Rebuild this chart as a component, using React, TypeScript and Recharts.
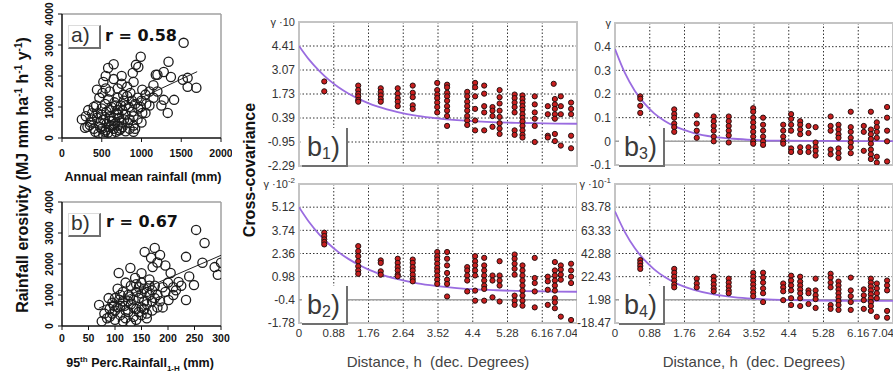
import React from "react";
import { ComposedChart, Scatter, Line, XAxis, YAxis, CartesianGrid, ReferenceArea, ReferenceLine } from "recharts";

const SANS = "'Liberation Sans', Arial, sans-serif";
const WIDE = "'DejaVu Sans', Verdana, sans-serif";

// ---- panel a: erosivity vs annual mean rainfall (mm, MJ mm/ha/h/y)
const annualRain = [
  [1530, 3070], [990, 2620], [580, 2260], [650, 2380], [960, 2290], [1340, 2460], [1280, 2130], [1180, 2040],
  [1370, 1970], [1580, 1940], [1690, 1620], [1580, 1650], [1520, 1880], [520, 1810], [440, 1560], [900, 1810],
  [1010, 1560], [1280, 1230], [1410, 1230], [1330, 810], [1010, 810], [320, 360], [380, 800], [890, 2100],
  [930, 2360], [1200, 2040], [1050, 810], [290, 330], [350, 420],
  [420, 200], [460, 150], [500, 300], [520, 100], [550, 250], [580, 180], [600, 350], [620, 120], [650, 300],
  [680, 200], [700, 400], [720, 250], [760, 350], [800, 220], [850, 300], [900, 400], [480, 500], [520, 600],
  [560, 450], [600, 700], [640, 550], [680, 800], [720, 650], [760, 900], [800, 750], [840, 1000], [880, 850],
  [920, 1100], [960, 950], [1000, 1200], [450, 800], [500, 950], [540, 1100], [580, 1250], [620, 1000],
  [660, 1150], [700, 1300], [740, 1050], [780, 1200], [820, 1350], [860, 1450], [950, 1300], [1050, 1400],
  [1100, 1500], [1150, 1300], [430, 1050], [470, 1300], [510, 1450], [550, 1600], [600, 1500], [700, 1600],
  [750, 1750], [820, 1650], [380, 600], [400, 300], [360, 500], [300, 700], [250, 600], [330, 900], [400, 1000],
  [600, 900], [650, 650], [700, 900], [750, 500], [800, 1050], [850, 600], [900, 700], [950, 600], [1000, 500],
  [1100, 1050], [1200, 1500], [1150, 1700], [650, 1900], [550, 2000], [750, 2000], [900, 200], [500, 750],
  [560, 850], [620, 400], [680, 1050], [740, 300], [780, 600], [440, 650], [480, 350], [540, 200], [600, 550],
  [660, 450], [710, 750], [770, 1400], [830, 500], [880, 1200], [920, 300], [990, 1000], [1060, 1100], [1250, 1050],
];
const annualFit = [[300, 460], [1700, 2140]];
const annualTicks = [0, 500, 1000, 1500, 2000];

// ---- panel b: erosivity vs 95th percentile 1-h rainfall
const p95Rain = [
  [253, 3100], [269, 2680], [234, 2230], [300, 2040], [294, 1650], [288, 1900], [265, 2040], [156, 2390],
  [175, 2520], [185, 2290], [168, 2200], [171, 1900], [205, 1710], [220, 1420], [249, 1320], [201, 840],
  [234, 840], [107, 1710], [129, 1870], [70, 680], [180, 2050], [195, 1950], [150, 1700], [165, 1500],
  [190, 1250], [210, 1250], [240, 1600],
  [85, 250], [95, 400], [100, 200], [105, 600], [110, 350], [115, 800], [120, 500], [125, 1000], [130, 700],
  [135, 300], [140, 1100], [145, 900], [150, 600], [155, 1200], [160, 400], [165, 1000], [170, 800], [175, 1300],
  [180, 600], [100, 900], [105, 1200], [110, 650], [115, 1100], [120, 250], [125, 450], [130, 1300], [135, 850],
  [140, 550], [145, 1250], [150, 350], [155, 800], [160, 1100], [170, 500], [180, 1000], [90, 550], [95, 750],
  [80, 400], [75, 150], [140, 200], [130, 100], [120, 1400], [150, 1400], [115, 150], [160, 700], [145, 450],
  [125, 800], [135, 600], [185, 800], [195, 1100], [200, 1400], [210, 1000], [175, 900], [110, 1000], [100, 500],
  [90, 300], [165, 1300], [155, 550], [140, 1350], [128, 950], [118, 650], [108, 850], [98, 650], [88, 900],
  [190, 600], [215, 1150], [225, 1300], [138, 1550], [150, 1050], [160, 250], [170, 1150],
];
const p95Fit = [[70, 580], [300, 2280]];
const p95Ticks = [0, 50, 100, 150, 200, 250, 300];
const erosTicks = [0, 1000, 2000, 3000, 4000];

// ---- cross-covariance panels b1..b4
const lagTicks = [0, 0.88, 1.76, 2.64, 3.52, 4.4, 5.28, 6.16, 7.04];

const b1Ticks = [-2.29, -0.95, 0.39, 1.73, 3.07, 4.41, 5.75];
const b1Pts = [
  [0.64, 2.43], [0.64, 1.88],
  [1.5, 2.2], [1.5, 1.95], [1.5, 1.75], [1.5, 1.6], [1.5, 1.4], [1.5, 1.3],
  [2.07, 2.05], [2.07, 1.85], [2.07, 1.65], [2.07, 1.45], [2.07, 1.3],
  [2.5, 2.05], [2.5, 1.75], [2.5, 1.5], [2.5, 1.3], [2.5, 1.05],
  [2.88, 2.2], [2.88, 1.8], [2.88, 1.55], [2.88, 1.1], [2.88, 0.9],
  [3.5, 2.35], [3.5, 1.95], [3.5, 1.7], [3.5, 1.5], [3.5, 1.25], [3.5, 1.0], [3.5, 0.7],
  [3.75, 2.25], [3.75, 2.1], [3.75, 1.8], [3.75, 1.6], [3.75, 1.35], [3.75, 1.05], [3.75, 0.8], [3.75, 0.5], [3.75, -0.05],
  [4.26, 1.85], [4.26, 1.6], [4.26, 1.3], [4.26, 1.05], [4.26, 0.8], [4.26, 0.5], [4.26, 0.25], [4.26, 0.0],
  [4.46, 2.35], [4.46, 2.1], [4.46, 1.6], [4.46, 0.9], [4.46, 0.25], [4.46, -0.3],
  [4.69, 2.2], [4.69, 1.75], [4.69, 1.05], [4.69, 0.7], [4.69, -0.3],
  [4.9, 1.0], [4.9, 0.8], [4.9, 0.5], [4.9, -0.1],
  [5.08, 1.95], [5.08, 1.55], [5.08, 1.2], [5.08, 0.8], [5.08, 0.45], [5.08, 0.1], [5.08, -0.2], [5.08, -0.5],
  [5.46, 1.7], [5.46, 1.5], [5.46, 1.25], [5.46, 1.0], [5.46, 0.7], [5.46, -0.3], [5.46, -0.55],
  [5.66, 1.65], [5.66, 1.45], [5.66, 1.25], [5.66, 1.05], [5.66, 0.85], [5.66, 0.6], [5.66, 0.4], [5.66, 0.2],
  [5.66, -0.05], [5.66, -0.3], [5.66, -0.55], [5.66, -0.7],
  [5.97, 1.6], [5.97, 1.15], [5.97, 0.7], [5.97, 0.35], [5.97, -0.05], [5.97, -0.95],
  [6.3, 1.05], [6.3, 0.6], [6.3, -0.6], [6.3, -0.7],
  [6.45, 2.3], [6.48, 1.45], [6.48, 1.15], [6.48, 0.9], [6.48, 0.6], [6.48, 0.35], [6.48, -0.5], [6.48, -0.9],
  [6.63, 1.6], [6.63, 1.05], [6.63, 0.6], [6.63, -1.15],
  [6.89, 1.25], [6.89, 0.9], [6.89, 0.6], [6.89, -0.6], [6.89, -1.3],
];
const b1Curve = [
  [0, 4.41], [0.25, 3.66], [0.5, 3.05], [0.75, 2.53], [1, 2.11], [1.25, 1.76], [1.5, 1.47], [1.75, 1.22],
  [2, 1.02], [2.5, 0.72], [3, 0.51], [3.5, 0.37], [4, 0.27], [4.5, 0.2], [5, 0.15], [5.5, 0.12], [6, 0.1],
  [6.5, 0.08], [7.04, 0.07],
];

const b2Ticks = [-1.78, -0.4, 0.98, 2.36, 3.74, 5.12, 6.5];
const b2Pts = [
  [0.64, 3.6], [0.64, 3.4], [0.64, 3.2], [0.64, 3.05], [0.64, 2.9],
  [1.5, 2.8], [1.5, 2.5], [1.5, 2.2], [1.5, 1.9], [1.5, 1.6], [1.5, 1.35], [1.5, 1.15],
  [2.07, 1.95], [2.07, 1.8], [2.07, 1.3], [2.07, 1.1],
  [2.5, 2.05], [2.5, 1.8], [2.5, 1.55], [2.5, 1.35], [2.5, 1.1], [2.5, 1.0],
  [2.88, 2.0], [2.88, 1.8], [2.88, 1.55], [2.88, 1.35], [2.88, 1.1], [2.88, 0.85], [2.88, 0.7],
  [3.5, 2.45], [3.5, 2.2], [3.5, 2.0], [3.5, 1.75], [3.5, 1.5], [3.5, 1.3], [3.5, 1.05], [3.5, 0.8], [3.5, 0.55],
  [3.75, 2.45], [3.75, 2.05], [3.75, 1.65], [3.75, 1.2], [3.75, 0.8], [3.75, 0.55], [3.75, -0.2],
  [4.26, 1.55], [4.26, 1.35], [4.26, 1.05], [4.26, 0.75], [4.26, 0.1],
  [4.46, 2.2], [4.46, 1.9], [4.46, 1.65], [4.46, 1.35], [4.46, 1.05], [4.46, 0.15], [4.46, -0.45],
  [4.69, 2.1], [4.69, 1.65], [4.69, 1.35], [4.69, 1.05], [4.69, 0.75], [4.69, 0.45], [4.69, 0.25], [4.69, -0.45],
  [4.9, 1.05], [4.9, 0.75], [4.9, -0.25],
  [5.08, 1.9], [5.08, 1.05], [5.08, 0.75], [5.08, 0.45], [5.08, -0.5],
  [5.46, 2.3], [5.46, 2.05], [5.46, 1.75], [5.46, 1.45], [5.46, 1.1], [5.46, -0.15], [5.46, -0.45], [5.46, -0.7],
  [5.66, 1.65], [5.66, 1.35], [5.66, 1.05], [5.66, 0.75], [5.66, 0.45], [5.66, 0.15], [5.66, -0.15], [5.66, -0.45], [5.66, -0.75],
  [5.97, 2.1], [5.97, 0.9], [5.97, 0.6], [5.97, 0.1], [5.97, -0.85],
  [6.3, 0.98], [6.3, 0.7], [6.3, 0.2], [6.3, -0.7],
  [6.48, 1.85], [6.48, 1.35], [6.48, 1.05], [6.48, 0.75], [6.48, 0.45], [6.48, 0.15], [6.48, -0.3], [6.48, -0.55], [6.48, -0.9],
  [6.63, 1.65], [6.63, 1.4], [6.63, 1.1], [6.63, 0.8], [6.63, -1.4],
  [6.89, 1.75], [6.89, 1.35], [6.89, 0.98], [6.89, 0.6], [6.89, -1.6],
];
const b2Curve = [
  [0, 5.12], [0.25, 4.25], [0.5, 3.53], [0.75, 2.94], [1, 2.44], [1.25, 2.04], [1.5, 1.7], [1.75, 1.41],
  [2, 1.18], [2.5, 0.83], [3, 0.58], [3.5, 0.42], [4, 0.3], [4.5, 0.22], [5, 0.17], [5.5, 0.13], [6, 0.11],
  [6.5, 0.09], [7.04, 0.08],
];

const b3Ticks = [-0.1, 0, 0.1, 0.2, 0.3, 0.4, 0.5];
const b3Pts = [
  [0.64, 0.19], [0.64, 0.18], [0.64, 0.15], [0.64, 0.12],
  [1.5, 0.135], [1.5, 0.115], [1.5, 0.1], [1.5, 0.075], [1.5, 0.06], [1.5, 0.04],
  [2.07, 0.11], [2.07, 0.075], [2.07, 0.045], [2.07, 0.015],
  [2.5, 0.105], [2.5, 0.085], [2.5, 0.065], [2.5, 0.045], [2.5, 0.02], [2.5, 0.0],
  [2.88, 0.105], [2.88, 0.085], [2.88, 0.065], [2.88, 0.045], [2.88, 0.025], [2.88, -0.005],
  [3.5, 0.14], [3.5, 0.125], [3.5, 0.1], [3.5, 0.08], [3.5, 0.06], [3.5, 0.04], [3.5, 0.02], [3.5, 0.0], [3.5, -0.01],
  [3.75, 0.1], [3.75, 0.07], [3.75, 0.045], [3.75, 0.02], [3.75, 0.0], [3.75, -0.015],
  [4.26, 0.07], [4.26, 0.045], [4.26, 0.02], [4.26, 0.0], [4.26, -0.01],
  [4.46, 0.115], [4.46, 0.095], [4.46, 0.07], [4.46, 0.045], [4.46, -0.03], [4.46, -0.045],
  [4.69, 0.085], [4.69, 0.07], [4.69, 0.05], [4.69, 0.03], [4.69, -0.025], [4.69, -0.045],
  [4.9, 0.065], [4.9, 0.035], [4.9, -0.025], [4.9, -0.045],
  [5.08, 0.06], [5.08, -0.005], [5.08, -0.025], [5.08, -0.04], [5.08, -0.06],
  [5.46, 0.105], [5.46, 0.065], [5.46, 0.045], [5.46, -0.035], [5.46, -0.055],
  [5.66, 0.07], [5.66, 0.05], [5.66, 0.03], [5.66, 0.015], [5.66, -0.03], [5.66, -0.05], [5.66, -0.07],
  [5.97, 0.125], [5.97, 0.06], [5.97, 0.04], [5.97, 0.015], [5.97, -0.005], [5.97, -0.025], [5.97, -0.05],
  [6.3, 0.065], [6.3, 0.04], [6.3, -0.04],
  [6.48, 0.125], [6.48, 0.05], [6.48, 0.03], [6.48, 0.01], [6.48, -0.01], [6.48, -0.035], [6.48, -0.055], [6.48, -0.075],
  [6.63, 0.08], [6.63, 0.06], [6.63, 0.04], [6.63, 0.015], [6.63, -0.065], [6.63, -0.09],
  [6.89, 0.145], [6.89, 0.1], [6.89, 0.045], [6.89, 0.0], [6.89, -0.085],
];
const b3Curve = [
  [0, 0.39], [0.25, 0.289], [0.5, 0.214], [0.75, 0.159], [1, 0.117], [1.25, 0.087], [1.5, 0.064], [1.75, 0.048],
  [2, 0.035], [2.5, 0.019], [3, 0.011], [3.5, 0.006], [4, 0.003], [5, 0.002], [6, 0.001], [7.04, 0.001],
];

const b4Ticks = [-18.47, 1.98, 22.43, 42.88, 63.33, 83.78, 104.23];
const b4Pts = [
  [0.64, 37.1], [0.64, 34.5], [0.64, 31.9], [0.64, 29.3],
  [1.5, 29.3], [1.5, 25.9], [1.5, 22.4], [1.5, 19.0], [1.5, 15.5], [1.5, 13.0],
  [2.07, 20.7], [2.07, 16.4], [2.07, 13.0],
  [2.5, 22.4], [2.5, 19.0], [2.5, 15.5], [2.5, 12.1], [2.5, 9.5],
  [2.88, 20.7], [2.88, 17.2], [2.88, 13.8], [2.88, 10.3], [2.88, 7.8],
  [3.5, 25.9], [3.5, 22.4], [3.5, 19.0], [3.5, 15.5], [3.5, 12.1], [3.5, 8.6], [3.5, 5.2],
  [3.75, 25.9], [3.75, 21.6], [3.75, 17.2], [3.75, 12.1], [3.75, 7.8], [3.75, 0.0],
  [4.26, 16.4], [4.26, 13.0], [4.26, 9.5], [4.26, 1.7],
  [4.46, 23.3], [4.46, 19.0], [4.46, 14.7], [4.46, 10.3], [4.46, 3.4], [4.46, -2.6],
  [4.69, 22.4], [4.69, 18.1], [4.69, 14.7], [4.69, 11.2], [4.69, 7.8], [4.69, 3.4], [4.69, -3.5],
  [4.9, 10.3], [4.9, 7.8], [4.9, -1.7],
  [5.08, 20.7], [5.08, 10.3], [5.08, 6.0], [5.08, 2.6], [5.08, -5.2],
  [5.46, 25.0], [5.46, 21.6], [5.46, 17.2], [5.46, 13.0], [5.46, -2.6], [5.46, -6.0],
  [5.66, 18.1], [5.66, 14.7], [5.66, 11.2], [5.66, 7.8], [5.66, 4.3], [5.66, 0.9], [5.66, -2.6], [5.66, -6.9],
  [5.97, 21.6], [5.97, 10.3], [5.97, 5.2], [5.97, 0.0], [5.97, -6.9],
  [6.3, 11.2], [6.3, 6.0], [6.3, 1.7], [6.3, -6.0],
  [6.48, 20.7], [6.48, 17.2], [6.48, 13.8], [6.48, 10.3], [6.48, 6.9], [6.48, 3.4], [6.48, 0.0], [6.48, -3.5], [6.48, -7.8],
  [6.63, 16.4], [6.63, 12.1], [6.63, 7.8], [6.63, 3.4], [6.63, -13.0],
  [6.89, 19.0], [6.89, 14.7], [6.89, 10.3], [6.89, -7.8], [6.89, -13.8],
];
const b4Curve = [
  [0, 80], [0.25, 61.8], [0.5, 47.7], [0.75, 37.0], [1, 28.7], [1.25, 22.3], [1.5, 17.4], [1.75, 13.6],
  [2, 10.7], [2.5, 6.7], [3, 4.4], [3.5, 3.0], [4, 2.2], [4.5, 1.7], [5, 1.4], [6, 1.14], [7.04, 1.05],
];

const toXY = (arr: number[][]) => arr.map(([x, y]) => ({ x, y }));

const redDot = (p: any) => (
  <circle cx={p.cx} cy={p.cy} r={2.6} fill="#c81e1e" stroke="#261212" strokeWidth={1} />
);
const ring = (p: any) => (
  <circle cx={p.cx} cy={p.cy} r={4.6} fill="none" stroke="#1c1c1c" strokeWidth={1.3} />
);

const RotTick = (props: any) => {
  const { x, y, payload } = props;
  return (
    <text x={x} y={y} transform={`rotate(-90 ${x} ${y})`} textAnchor="middle" fontSize={10.5}
      fontWeight="bold" fill="#111" fontFamily={SANS}>
      {payload.value}
    </text>
  );
};

// last lag label sits at the panel's right edge, so it is right-aligned to stay whole
const LagTick = (props: any) => {
  const { x, y, payload } = props;
  const last = payload.value === lagTicks[lagTicks.length - 1];
  return (
    <text x={last ? x + 1 : x} y={y} dy="0.71em" textAnchor={last ? "end" : "middle"} fontSize={11.5}
      fill="#333" fontFamily={SANS}>
      {payload.value}
    </text>
  );
};

const CovTick = (props: any) => {
  const { x, y, payload, top, gamma } = props;
  if (payload.value === top) {
    return (
      <text x={x} y={y} dy="0.35em" textAnchor="end" fontSize={11} fill="#333" fontFamily={SANS}>
        {gamma.base}
        {gamma.exp ? <tspan dy={-5} fontSize={8}>{gamma.exp}</tspan> : null}
      </text>
    );
  }
  return (
    <text x={x} y={y} dy="0.35em" textAnchor="end" fontSize={12} fill="#333" fontFamily={SANS}>
      {payload.value}
    </text>
  );
};

function ErosPanel({ top, height, mTop, xHeight, tickMargin, pts, fit, xTicks }: any) {
  const xMax = xTicks[xTicks.length - 1];
  return (
    <div style={{ position: "absolute", left: 0, top, width: 232, height }}>
      <ComposedChart width={232} height={height} margin={{ top: mTop, right: 11, bottom: 0, left: 32 }}>
        <XAxis type="number" dataKey="x" domain={[0, xMax]} ticks={xTicks} interval={0} allowDataOverflow
          height={xHeight} tickSize={4} tickMargin={tickMargin}
          axisLine={{ stroke: "#111", strokeWidth: 1.5 }} tickLine={{ stroke: "#111" }}
          tick={{ fontSize: 10.5, fontWeight: "bold", fill: "#111", fontFamily: SANS }} />
        <YAxis type="number" dataKey="y" domain={[0, 4000]} ticks={erosTicks} interval={0} allowDataOverflow
          width={30} tickSize={4} tickMargin={5}
          axisLine={{ stroke: "#111", strokeWidth: 1.5 }} tickLine={{ stroke: "#111" }} tick={<RotTick />} />
        <ReferenceLine y={4000} stroke="#a0a0a0" strokeWidth={1.5} />
        <ReferenceLine x={xMax} stroke="#a0a0a0" strokeWidth={1.5} />
        <Scatter data={toXY(pts)} shape={ring} isAnimationActive={false} />
        <Line data={toXY(fit)} dataKey="y" type="linear" stroke="#222" strokeWidth={1} dot={false}
          isAnimationActive={false} />
      </ComposedChart>
    </div>
  );
}

function CovPanel({ left, top, width, height, margin, yWidth, showX, pts, curve, yTicks, gamma, solidY }: any) {
  const lo = yTicks[0];
  const hi = yTicks[yTicks.length - 1];
  return (
    <div style={{ position: "absolute", left, top, width, height, overflow: "hidden" }}>
      <ComposedChart width={width} height={height} margin={margin}>
        <CartesianGrid stroke="#333" strokeDasharray="1.5 2" />
        <XAxis type="number" dataKey="x" domain={[0, 7.04]} ticks={lagTicks} interval={0} allowDataOverflow
          hide={!showX} height={showX ? 54 : 0} axisLine={false} tickLine={false} tickSize={0} tickMargin={6}
          tick={<LagTick />}
          label={showX ? { value: "Distance, h\u00a0 (dec. Degrees)", position: "insideBottom", offset: 10,
            fill: "#444", fontSize: 15, fontFamily: SANS } : undefined} />
        <YAxis type="number" dataKey="y" domain={[lo, hi]} ticks={yTicks} interval={0} allowDataOverflow
          width={yWidth} axisLine={false} tickLine={false} tickSize={0} tickMargin={4}
          tick={<CovTick top={hi} gamma={gamma} />} />
        {solidY !== undefined && <ReferenceLine y={solidY} stroke="#a2a2a2" strokeWidth={1.5} />}
        <ReferenceArea x1={0} x2={7.04} y1={lo} y2={hi} fill="none" stroke="#c4c4c4" strokeWidth={2} />
        <Line data={toXY(curve)} dataKey="y" type="monotone" stroke="#9a6ce0" strokeWidth={1.8} dot={false}
          isAnimationActive={false} />
        <Scatter data={toXY(pts)} shape={redDot} isAnimationActive={false} />
      </ComposedChart>
    </div>
  );
}

const tagBox = (left: number, top: number, w: number, h: number): React.CSSProperties => ({
  position: "absolute", left, top, width: w, height: h, boxSizing: "border-box",
  borderRight: "2px solid #707070", borderBottom: "2px solid #707070",
  borderTop: "1px solid #dcdcdc", borderLeft: "1px solid #dcdcdc",
});

export default function App() {
  return (
    <div style={{ position: "absolute", left: 0, top: 0, width: 893, height: 377, background: "#fff", overflow: "hidden" }}>
      <ErosPanel top={0} height={185} mTop={14} xHeight={47} tickMargin={8} pts={annualRain} fit={annualFit}
        xTicks={annualTicks} />
      <ErosPanel top={185} height={192} mTop={17} xHeight={51} tickMargin={5} pts={p95Rain} fit={p95Fit}
        xTicks={p95Ticks} />

      <CovPanel left={240} top={0} width={340} height={175} margin={{ top: 22, right: 3, bottom: 9, left: 9 }}
        yWidth={50} showX={false} pts={b1Pts} curve={b1Curve} yTicks={b1Ticks} gamma={{ base: "γ ·10", exp: "" }} />
      <CovPanel left={240} top={175} width={337} height={202} margin={{ top: 9, right: 0, bottom: 0, left: 9 }}
        yWidth={50} showX pts={b2Pts} curve={b2Curve} yTicks={b2Ticks} gamma={{ base: "γ ·10", exp: "-2" }}
        solidY={-0.4} />
      <CovPanel left={570} top={0} width={323} height={175} margin={{ top: 23, right: 0, bottom: 10, left: 9 }}
        yWidth={36} showX={false} pts={b3Pts} curve={b3Curve} yTicks={b3Ticks} gamma={{ base: "γ", exp: "" }}
        solidY={0} />
      <CovPanel left={577} top={175} width={316} height={202} margin={{ top: 9, right: 0, bottom: 0, left: 0 }}
        yWidth={38} showX pts={b4Pts} curve={b4Curve} yTicks={b4Ticks} gamma={{ base: "γ ·10", exp: "-1" }}
        solidY={1.98} />

      {/* axis titles */}
      <div style={{ position: "absolute", left: 19 - 180, top: 175 - 11, width: 360, height: 22, lineHeight: "22px",
        transform: "rotate(-90deg)", textAlign: "center", fontFamily: SANS, fontWeight: "bold", fontSize: 16, color: "#111" }}>
        Rainfall erosivity (MJ mm ha<sup style={{ fontSize: 10 }}>-1</sup> h<sup style={{ fontSize: 10 }}>-1</sup> y<sup style={{ fontSize: 10 }}>-1</sup>)
      </div>
      <div style={{ position: "absolute", left: 63, top: 170, width: 160, textAlign: "center", fontFamily: SANS,
        fontWeight: "bold", fontSize: 12.5, color: "#111", whiteSpace: "nowrap" }}>
        Annual mean rainfall (mm)
      </div>
      <div style={{ position: "absolute", left: 60, top: 355, width: 160, textAlign: "center", fontFamily: SANS,
        fontWeight: "bold", fontSize: 12.5, color: "#111", whiteSpace: "nowrap" }}>
        95<sup style={{ fontSize: 8 }}>th</sup> Perc.Rainfall<sub style={{ fontSize: 8 }}>1-H</sub> (mm)
      </div>
      <div style={{ position: "absolute", left: 250 - 100, top: 170 - 11, width: 200, height: 22, lineHeight: "22px",
        transform: "rotate(-90deg)", textAlign: "center", fontFamily: SANS, fontWeight: "bold", fontSize: 16, color: "#111" }}>
        Cross-covariance
      </div>

      {/* panel tags */}
      <div style={tagBox(68, 25, 33, 24)} />
      <div style={{ position: "absolute", left: 71, top: 23, fontFamily: SANS, fontSize: 21, color: "#333" }}>a)</div>
      <div style={{ position: "absolute", left: 105, top: 26, fontFamily: WIDE, fontWeight: "bold", fontSize: 16, color: "#111" }}>r = 0.58</div>
      <div style={tagBox(68, 213, 33, 24)} />
      <div style={{ position: "absolute", left: 71, top: 211, fontFamily: SANS, fontSize: 21, color: "#333" }}>b)</div>
      <div style={{ position: "absolute", left: 106, top: 212, fontFamily: WIDE, fontWeight: "bold", fontSize: 16, color: "#111" }}>r = 0.67</div>

      {[
        { l: 302, t: 128, s: "1" },
        { l: 302, t: 286, s: "2" },
        { l: 619, t: 128, s: "3" },
        { l: 619, t: 286, s: "4" },
      ].map((b) => (
        <React.Fragment key={b.s}>
          <div style={{ ...tagBox(b.l, b.t, 46, 39), borderTop: "none", borderLeft: "none", background: "#fff" }} />
          <div style={{ position: "absolute", left: b.l + 5, top: b.t + 2, fontFamily: SANS, fontSize: 27, color: "#3a3a3a", lineHeight: "34px" }}>
            b<sub style={{ fontSize: 16, verticalAlign: "-3px" }}>{b.s}</sub>)
          </div>
        </React.Fragment>
      ))}
    </div>
  );
}
